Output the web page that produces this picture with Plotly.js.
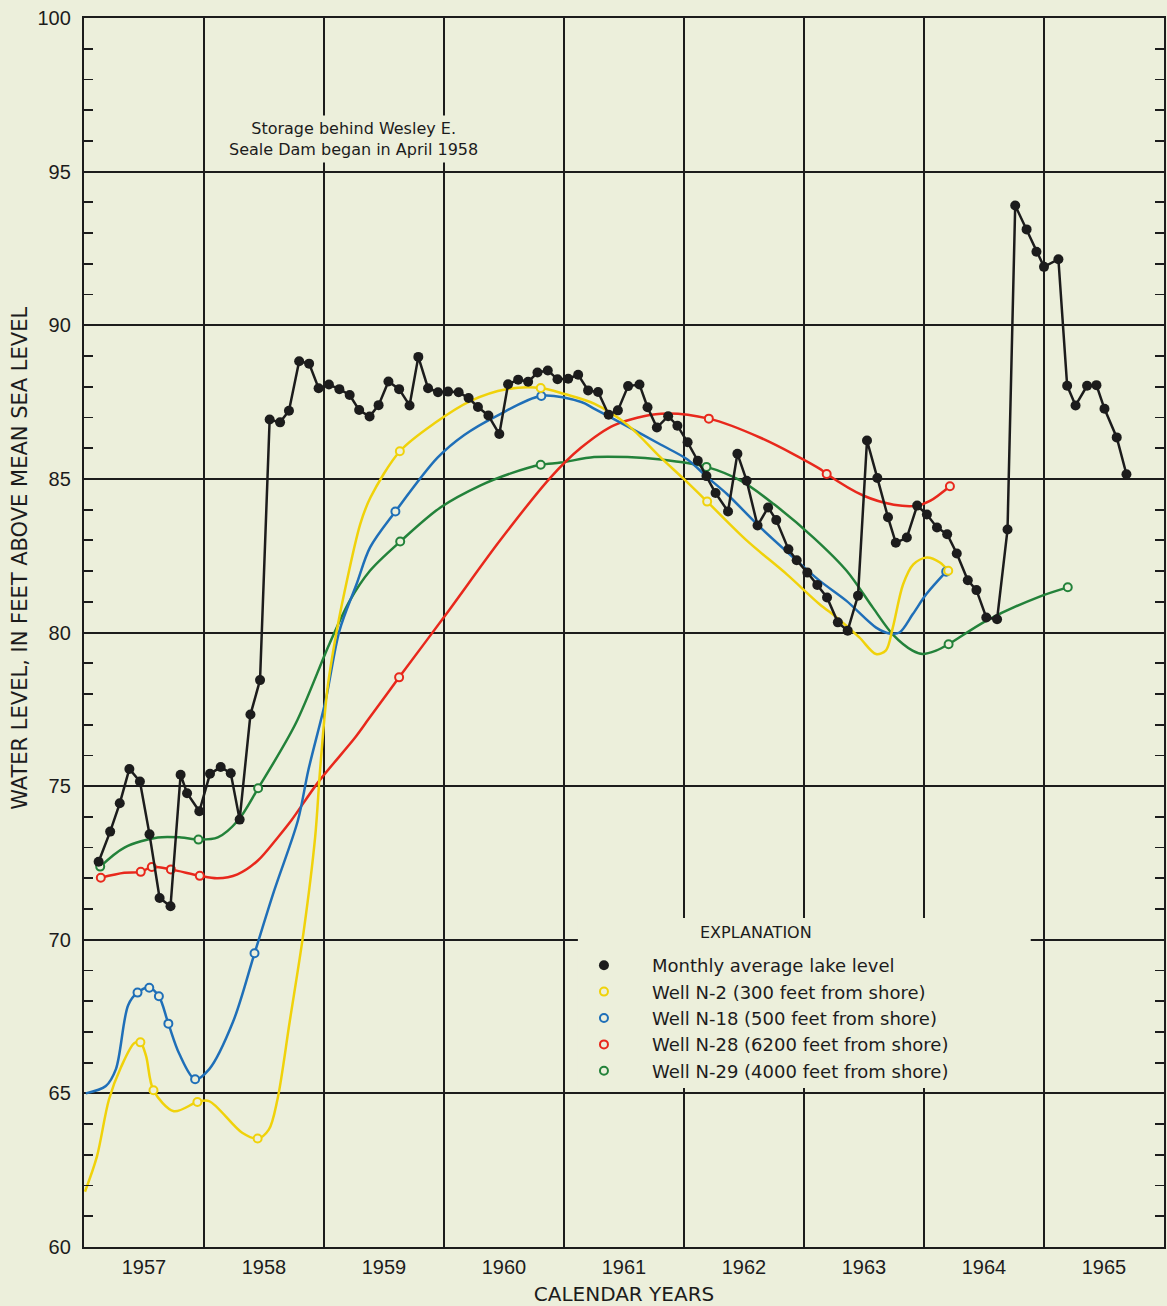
<!DOCTYPE html>
<html>
<head>
<meta charset="utf-8">
<script src="https://cdn.plot.ly/plotly-3.0.1.min.js"></script>
<style>html,body{margin:0;padding:0;background:#ecefdb;}#chart{width:1167px;height:1306px;}</style>
</head>
<body>
<div id="chart"></div>
<script>
// ---- Monthly average lake level (decimal years) ----
const lakeYears = [1957.122,1957.218,1957.298,1957.378,1957.466,1957.546,1957.630,1957.721,1957.805,1957.859,
1957.961,1958.050,1958.139,1958.223,1958.297,1958.387,1958.467,1958.547,1958.634,1958.708,
1958.793,1958.876,1958.955,1959.041,1959.128,1959.214,1959.293,1959.380,1959.455,1959.537,
1959.626,1959.713,1959.786,1959.867,1959.950,1960.034,1960.122,1960.205,1960.283,1960.370,
1960.461,1960.534,1960.618,1960.701,1960.779,1960.865,1960.946,1961.035,1961.118,1961.201,
1961.284,1961.372,1961.449,1961.534,1961.629,1961.696,1961.774,1961.868,1961.945,1962.030,
1962.115,1962.187,1962.263,1962.367,1962.445,1962.522,1962.613,1962.701,1962.769,1962.870,
1962.939,1963.028,1963.111,1963.192,1963.282,1963.364,1963.450,1963.525,1963.611,1963.700,
1963.765,1963.857,1963.943,1964.024,1964.108,1964.193,1964.273,1964.365,1964.437,1964.519,
1964.609,1964.696,1964.760,1964.855,1964.937,1965.000,1965.120,1965.193,1965.263,1965.359,
1965.437,1965.504,1965.606,1965.687];
const lakeLevel = [72.54,73.52,74.44,75.56,75.15,73.43,71.36,71.09,75.37,74.77,
74.18,75.40,75.62,75.42,73.91,77.33,78.45,86.93,86.84,87.22,
88.83,88.75,87.95,88.07,87.92,87.73,87.24,87.03,87.40,88.17,
87.92,87.39,88.97,87.95,87.82,87.84,87.82,87.63,87.34,87.06,
86.46,88.08,88.23,88.16,88.46,88.53,88.24,88.26,88.39,87.88,
87.83,87.09,87.23,88.02,88.07,87.33,86.67,87.04,86.73,86.19,
85.59,85.09,84.54,83.94,85.82,84.94,83.48,84.07,83.66,82.71,
82.35,81.95,81.55,81.14,80.33,80.06,81.20,86.25,85.03,83.75,
82.92,83.09,84.13,83.84,83.42,83.20,82.57,81.70,81.38,80.49,
80.43,83.35,93.90,93.12,92.39,91.90,92.15,88.03,87.39,88.03,
88.05,87.28,86.35,85.15];

// ---- Well N-2 (300 feet from shore) ----
const n2CurveX = [1957.008,1957.108,1957.208,1957.308,1957.420,1957.470,1957.517,1957.579,1957.749,1957.945,
1958.042,1958.318,1958.447,1958.540,1958.612,1958.714,1958.831,1958.926,1958.967,1959.027,
1959.101,1959.173,1959.302,1959.388,1959.632,1959.920,1960.227,1960.520,1960.806,1961.005,
1961.255,1961.532,1961.807,1962.000,1962.193,1962.524,1962.855,1963.130,1963.272,1963.461,
1963.600,1963.683,1963.740,1963.826,1963.911,1964.023,1964.133,1964.202];
const n2CurveY = [61.80,62.95,64.80,65.85,66.64,66.66,66.22,65.10,64.42,64.72,
64.75,63.72,63.53,63.82,64.80,67.33,70.28,73.33,75.51,78.11,
79.94,81.36,83.53,84.40,85.90,86.81,87.55,87.92,87.96,87.76,
87.44,86.75,85.69,84.99,84.26,82.99,81.90,80.92,80.49,79.84,
79.30,79.42,80.16,81.57,82.22,82.44,82.28,82.01];
const n2MarkX = [1957.470,1957.579,1957.945,1958.447,1959.632,1960.806,1962.193,1964.202];
const n2MarkY = [66.66,65.10,64.72,63.53,85.90,87.96,84.26,82.01];

// ---- Well N-18 (500 feet from shore) ----
const n18CurveX = [1957.015,1957.182,1957.266,1957.368,1957.446,1957.544,1957.624,1957.703,1957.795,1957.926,
1958.044,1958.242,1958.421,1958.584,1958.783,1958.869,1959.013,1959.129,1959.271,1959.384,
1959.595,1959.946,1960.169,1960.449,1960.811,1961.144,1961.254,1961.532,1961.808,1962.029,
1962.195,1962.360,1962.636,1962.911,1963.132,1963.354,1963.601,1963.712,1963.796,1963.907,
1964.020,1964.185];
const n18CurveY = [65.00,65.24,65.79,67.87,68.28,68.44,68.16,67.27,66.28,65.46,
65.79,67.33,69.56,71.59,73.89,75.51,77.78,80.06,81.57,82.77,
83.94,85.69,86.43,87.07,87.70,87.50,87.28,86.70,86.11,85.63,
85.05,84.50,83.42,82.44,81.68,81.03,80.16,79.97,80.00,80.60,
81.25,81.98];
const n18MarkX = [1957.446,1957.544,1957.624,1957.703,1957.926,1958.421,1959.595,1960.811,1964.185];
const n18MarkY = [68.28,68.44,68.16,67.27,65.46,69.56,83.94,87.70,81.98];

// ---- Well N-28 (6200 feet from shore) ----
const n28CurveX = [1957.140,1957.335,1957.473,1957.565,1957.724,1957.965,1958.112,1958.279,1958.447,1958.615,
1958.727,1958.952,1959.261,1959.373,1959.626,1960.047,1960.468,1960.889,1961.141,1961.420,
1961.810,1962.207,1962.642,1963.139,1963.189,1963.498,1963.748,1963.943,1964.054,1964.216];
const n28CurveY = [72.02,72.18,72.21,72.37,72.29,72.08,72.00,72.13,72.57,73.33,
73.88,75.13,76.59,77.19,78.54,80.75,83.00,85.05,86.01,86.75,
87.12,86.96,86.33,85.31,85.16,84.45,84.16,84.13,84.29,84.76];
const n28MarkX = [1957.140,1957.473,1957.565,1957.724,1957.965,1959.626,1962.207,1963.189,1964.216];
const n28MarkY = [72.02,72.21,72.37,72.29,72.08,78.54,86.96,85.16,84.76];

// ---- Well N-29 (4000 feet from shore) ----
const n29CurveX = [1957.135,1957.337,1957.615,1957.809,1957.954,1958.115,1958.283,1958.451,1958.762,1959.044,
1959.214,1959.383,1959.635,1959.970,1960.305,1960.556,1960.806,1960.973,1961.251,1961.529,
1961.808,1962.187,1962.472,1962.748,1963.079,1963.355,1963.574,1963.739,1963.905,1963.988,
1964.100,1964.205,1964.518,1964.964,1965.198];
const n29CurveY = [72.38,73.00,73.33,73.33,73.26,73.33,73.88,74.93,77.02,79.62,
81.03,82.01,82.96,84.07,84.79,85.18,85.46,85.53,85.71,85.71,
85.63,85.39,84.94,84.18,83.09,82.01,80.81,79.94,79.41,79.30,
79.41,79.62,80.38,81.17,81.47];
const n29MarkX = [1957.135,1957.954,1958.451,1959.635,1960.806,1962.187,1964.205,1965.198];
const n29MarkY = [72.38,73.26,74.93,82.96,85.46,85.39,79.62,81.47];

// ---- Axis labels ----
const yearTickVals = [1957.5,1958.5,1959.5,1960.5,1961.5,1962.5,1963.5,1964.5,1965.5];
const yearTickText = ['1957','1958','1959','1960','1961','1962','1963','1964','1965'];
const legendNames = ['Monthly average lake level','Well N-2 (300 feet from shore)','Well N-18 (500 feet from shore)','Well N-28 (6200 feet from shore)','Well N-29 (4000 feet from shore)'];

const BG = '#ecefdb';
const INK = '#1c1c1c';
const C_YEL = '#f0d20a', C_BLU = '#1f6fb8', C_RED = '#e8281c', C_GRN = '#23823a';

function curve(x, y, color) {
  return {x: x, y: y, type: 'scatter', mode: 'lines', showlegend: false, hoverinfo: 'skip',
          line: {color: color, width: 2.5, shape: 'spline', smoothing: 0.9}};
}
function marks(x, y, color, name, rank) {
  return {x: x, y: y, type: 'scatter', mode: 'markers', name: name, legendrank: rank,
          marker: {symbol: 'circle', size: 8, color: BG, line: {color: color, width: 2}}};
}

const data = [
  curve(n29CurveX, n29CurveY, C_GRN),
  curve(n28CurveX, n28CurveY, C_RED),
  curve(n18CurveX, n18CurveY, C_BLU),
  curve(n2CurveX, n2CurveY, C_YEL),
  marks(n29MarkX, n29MarkY, C_GRN, legendNames[4], 5),
  marks(n28MarkX, n28MarkY, C_RED, legendNames[3], 4),
  marks(n18MarkX, n18MarkY, C_BLU, legendNames[2], 3),
  marks(n2MarkX, n2MarkY, C_YEL, legendNames[1], 2),
  {x: lakeYears, y: lakeLevel, type: 'scatter', mode: 'lines', showlegend: false,
   line: {color: INK, width: 2.5}},
  {x: lakeYears, y: lakeLevel, type: 'scatter', mode: 'markers', name: legendNames[0], legendrank: 1,
   marker: {symbol: 'circle', size: 10, color: INK}}
];

const layout = {
  width: 1167, height: 1306,
  margin: {l: 84, r: 3, t: 18, b: 59},
  paper_bgcolor: BG, plot_bgcolor: BG,
  font: {family: 'DejaVu Sans', color: INK},
  showlegend: true,
  xaxis: {
    range: [1957, 1966], showgrid: false, zeroline: false,
    tickmode: 'array', tickvals: yearTickVals, ticktext: yearTickText, ticks: '',
    tickfont: {family: 'Liberation Sans', size: 20, color: INK},
    ticklabelstandoff: 1,
    showline: true, mirror: true, linecolor: INK, linewidth: 2.2,
    minor: {tick0: 1957, dtick: 1, showgrid: true, gridcolor: INK, gridwidth: 2, ticks: ''},
    title: {text: 'CALENDAR YEARS', font: {family: 'DejaVu Sans', size: 20, color: INK}, standoff: 10}
  },
  yaxis: {
    range: [60, 100], dtick: 5, tick0: 60, zeroline: false,
    showgrid: true, gridcolor: INK, gridwidth: 2, ticks: '',
    tickfont: {family: 'Liberation Sans', size: 20, color: INK},
    ticklabelstandoff: 7,
    showline: true, mirror: 'ticks', linecolor: INK, linewidth: 2.2,
    minor: {dtick: 1, tick0: 60, ticks: 'inside', ticklen: 9, tickwidth: 1.8, tickcolor: INK, showgrid: false}
  },
  legend: {
    x: 0.437, y: 0.2441, xanchor: 'left', yanchor: 'top',
    bgcolor: 'rgba(0,0,0,0)', borderwidth: 0, itemwidth: 86,
    font: {family: 'DejaVu Sans', size: 18, color: INK}
  },
  shapes: [
    {type: 'rect', xref: 'paper', yref: 'paper', x0: 0.4573, x1: 0.8766, y0: 0.1294, y1: 0.2677,
     fillcolor: BG, line: {width: 0}, layer: 'above'}
  ],
  annotations: [
    {x: 0.6224, y: 0.2563, xref: 'paper', yref: 'paper', xanchor: 'center', yanchor: 'middle', showarrow: false,
     text: 'EXPLANATION', font: {family: 'DejaVu Sans', size: 16, color: INK}},
    {x: 1959.245, y: 96.07, xref: 'x', yref: 'y', showarrow: false, align: 'center',
     text: 'Storage behind Wesley E.<br>Seale Dam began in April 1958',
     font: {family: 'DejaVu Sans', size: 16, color: INK}, bgcolor: BG, borderpad: 3},
    {x: -0.0594, y: 0.5606, xref: 'paper', yref: 'paper', xanchor: 'center', yanchor: 'middle',
     showarrow: false, textangle: -90,
     text: 'WATER LEVEL, IN FEET ABOVE MEAN SEA LEVEL',
     font: {family: 'DejaVu Sans', size: 21, color: INK}}
  ]
};

Plotly.newPlot('chart', data, layout, {displayModeBar: false, staticPlot: true});
</script>
</body>
</html>
